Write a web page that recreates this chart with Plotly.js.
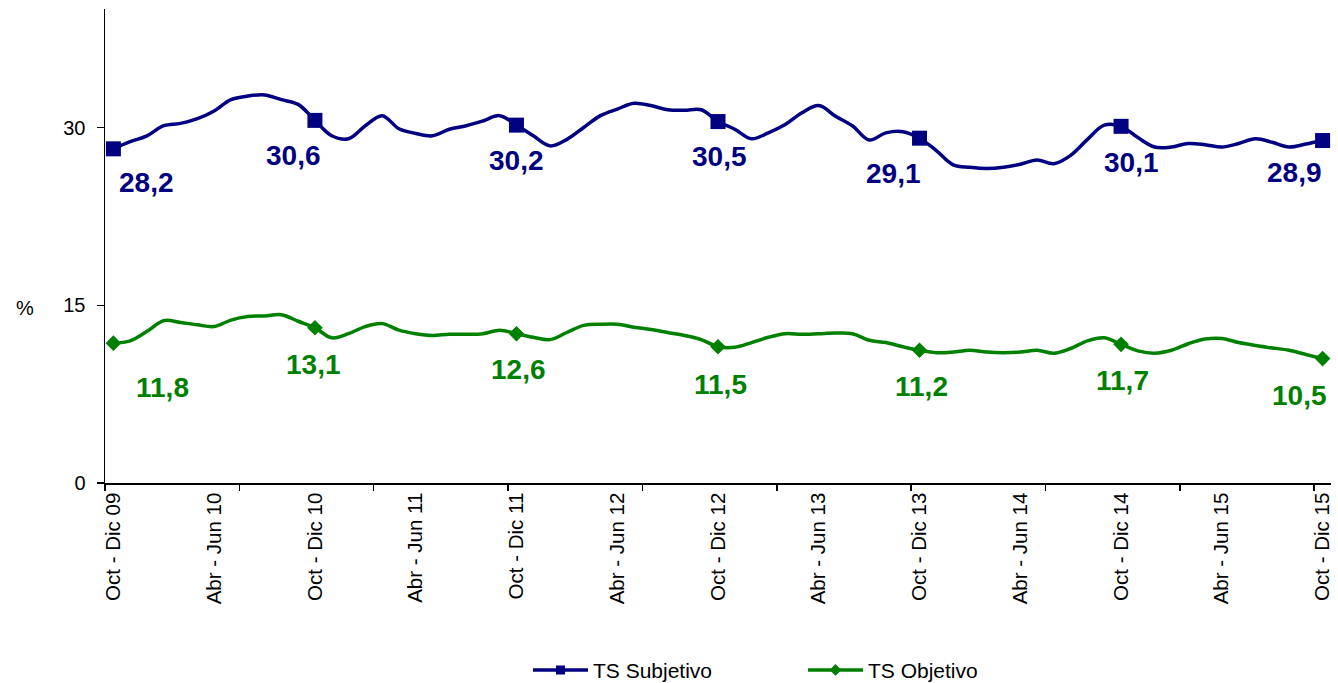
<!DOCTYPE html>
<html>
<head>
<meta charset="utf-8">
<script src="https://cdn.plot.ly/plotly-3.0.1.min.js"></script>
<style>
html,body{margin:0;padding:0;background:#ffffff;}
#chart{width:1338px;height:683px;}
</style>
</head>
<body>
<div id="chart"></div>
<script>
// ---- data ----
const monthNames = ['Ene','Feb','Mar','Abr','May','Jun','Jul','Ago','Sep','Oct','Nov','Dic'];
// rolling quarters, Oct - Dic 09 ... Oct - Dic 15 (73 categories)
const categories = [];
for (let k = 0; k < 73; k++) {
  const endM = 11 + k;
  const yr = 9 + Math.floor(endM / 12);
  categories.push(monthNames[(endM - 2) % 12] + ' - ' + monthNames[endM % 12] + ' ' + String(yr).padStart(2, '0'));
}

const tsSubjetivo = [
  28.2, 28.8, 29.3, 30.15, 30.35, 30.75, 31.4, 32.35, 32.65, 32.75, 32.35, 31.95,
  30.6, 29.3, 29.05, 30.15, 31.0, 29.9, 29.5, 29.3, 29.85, 30.15, 30.55, 31.0,
  30.2, 29.3, 28.45, 29.0, 30.0, 31.0, 31.55, 32.05, 31.85, 31.5, 31.45, 31.5,
  30.5, 29.85, 29.05, 29.55, 30.25, 31.25, 31.85, 30.95, 30.15, 28.95, 29.55, 29.65,
  29.1, 28.05, 26.85, 26.65, 26.55, 26.65, 26.9, 27.25, 26.95, 27.65, 29.0, 30.2,
  30.1, 29.15, 28.35, 28.35, 28.65, 28.55, 28.35, 28.65, 29.05, 28.75, 28.35, 28.6,
  28.9
];

const tsObjetivo = [
  11.8, 12.0, 12.8, 13.7, 13.55, 13.35, 13.2, 13.75, 14.05, 14.1, 14.2, 13.65,
  13.1, 12.25, 12.6, 13.2, 13.45, 12.9, 12.6, 12.45, 12.55, 12.55, 12.6, 12.9,
  12.6, 12.3, 12.1, 12.7, 13.3, 13.4, 13.4, 13.15, 12.95, 12.7, 12.45, 12.1,
  11.5, 11.45, 11.85, 12.3, 12.6, 12.55, 12.6, 12.65, 12.6, 12.05, 11.85, 11.5,
  11.2, 11.0, 11.05, 11.2, 11.05, 11.0, 11.05, 11.2, 10.95, 11.35, 12.0, 12.25,
  11.7, 11.15, 10.95, 11.2, 11.75, 12.15, 12.2, 11.85, 11.6, 11.4, 11.2, 10.85,
  10.5
];

const seriesNames = ['TS Subjetivo', 'TS Objetivo'];
const yTickValues = [0, 15, 30];

// ---- styling / layout helpers ----
const FONT = 'Arial, "Liberation Sans", sans-serif';
const BLUE = '#000080';
const GREEN = '#008000';
const subjLabelShift = [[33,-34],[-21,-35],[0,-35],[1,-35],[-26,-35],[10,-36],[-28,-32]];
const objLabelShift  = [[49,-44],[-1,-37],[2,-36],[2,-38],[2,-36],[1,-36],[-23,-37]];

const idx = categories.map((c, i) => i);
const markIdx = idx.filter(i => categories[i].startsWith('Oct'));
const tickIdx = idx.filter(i => i % 6 === 0);
const minorTicks = [];
for (let b = 0; b < categories.length; b += 8) minorTicks.push(b - 0.5);
const fmt = v => v.toFixed(1).replace('.', ',');

const traces = [
  { x: idx, y: tsSubjetivo, mode: 'lines', type: 'scatter', showlegend: false, hoverinfo: 'skip',
    line: { color: BLUE, width: 3.5, shape: 'spline', smoothing: 1 } },
  { x: markIdx, y: markIdx.map(i => tsSubjetivo[i]), mode: 'markers', type: 'scatter', showlegend: false,
    marker: { symbol: 'square', size: 15, color: BLUE } },
  { x: idx, y: tsObjetivo, mode: 'lines', type: 'scatter', showlegend: false, hoverinfo: 'skip',
    line: { color: GREEN, width: 3.5, shape: 'spline', smoothing: 1 } },
  { x: markIdx, y: markIdx.map(i => tsObjetivo[i]), mode: 'markers', type: 'scatter', showlegend: false,
    marker: { symbol: 'diamond', size: 12, color: GREEN } },
  // legend entries
  { x: [null], y: [null], mode: 'lines+markers', type: 'scatter', name: seriesNames[0],
    line: { color: BLUE, width: 3.5 }, marker: { symbol: 'square', size: 9, color: BLUE } },
  { x: [null], y: [null], mode: 'lines+markers', type: 'scatter', name: seriesNames[1],
    line: { color: GREEN, width: 3.5 }, marker: { symbol: 'diamond', size: 9, color: GREEN } }
];

const annotations = [];
markIdx.forEach((i, k) => {
  annotations.push({ x: i, y: tsSubjetivo[i], xref: 'x', yref: 'y', showarrow: false,
    text: '<b>' + fmt(tsSubjetivo[i]) + '</b>', xshift: subjLabelShift[k][0], yshift: subjLabelShift[k][1],
    font: { family: FONT, size: 28, color: BLUE } });
  annotations.push({ x: i, y: tsObjetivo[i], xref: 'x', yref: 'y', showarrow: false,
    text: '<b>' + fmt(tsObjetivo[i]) + '</b>', xshift: objLabelShift[k][0], yshift: objLabelShift[k][1],
    font: { family: FONT, size: 28, color: GREEN } });
});
annotations.push({ x: -0.065, xref: 'paper', y: 14.8, yref: 'y', showarrow: false, text: '%',
  xanchor: 'center', yanchor: 'middle', font: { family: FONT, size: 20, color: '#000000' } });

const layout = {
  width: 1338, height: 683,
  margin: { l: 105, r: 7, t: 9, b: 200, autoexpand: false },
  paper_bgcolor: '#ffffff', plot_bgcolor: '#ffffff',
  font: { family: FONT, size: 20, color: '#000000' },
  showlegend: true,
  legend: { orientation: 'h', x: 0.345, xanchor: 'left', y: -0.395, yanchor: 'middle',
    font: { family: FONT, size: 21, color: '#000000' }, itemwidth: 55, entrywidth: 205, entrywidthmode: 'pixels',
    bgcolor: 'rgba(0,0,0,0)' },
  xaxis: {
    type: 'linear', range: [-0.5, categories.length - 0.5], automargin: false,
    showgrid: false, zeroline: false, showline: true, linecolor: '#000000', linewidth: 1.5,
    tickmode: 'array', tickvals: tickIdx, ticktext: tickIdx.map(i => categories[i]),
    ticks: '', tickangle: -90, tickfont: { family: FONT, size: 20.5, color: '#000000' },
    minor: { tickmode: 'array', tickvals: minorTicks, ticks: 'outside', ticklen: 6, tickwidth: 1.5, tickcolor: '#000000', showgrid: false },
    fixedrange: true
  },
  yaxis: {
    range: [0, 40], automargin: false, showgrid: false, zeroline: false,
    showline: true, linecolor: '#000000', linewidth: 1.5,
    tickmode: 'array', tickvals: yTickValues, ticktext: yTickValues.map(String),
    ticks: 'outside', ticklen: 7, tickwidth: 1.5, tickcolor: '#000000', ticklabelstandoff: 7,
    tickfont: { family: FONT, size: 20, color: '#000000' }, fixedrange: true
  },
  annotations: annotations
};

Plotly.newPlot('chart', traces, layout, { displayModeBar: false, staticPlot: true });
</script>
</body>
</html>
